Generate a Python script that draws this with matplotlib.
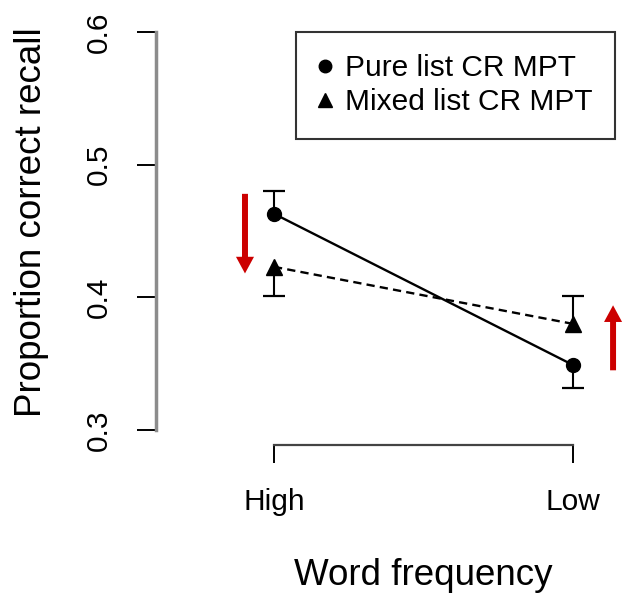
import numpy as np
import matplotlib
matplotlib.use("Agg")
import matplotlib.pyplot as plt
from matplotlib.lines import Line2D
from matplotlib.patches import FancyArrowPatch

plt.rcParams["font.family"] = ["Liberation Sans", "DejaVu Sans"]

# ── data ────────────────────────────────────────────────
freq_labels = ["High", "Low"]
x_pos = np.array([1, 2])
pure_mean = np.array([0.463, 0.349])
pure_err_lo = np.array([0.0, 0.017])
pure_err_hi = np.array([0.017, 0.0])
mixed_mean = np.array([0.423, 0.380])
mixed_err_lo = np.array([0.022, 0.0])
mixed_err_hi = np.array([0.0, 0.021])
y_ticks = [0.3, 0.4, 0.5, 0.6]

# red arrows: (x, y_tail, y_tip)
arrow_left = (0.903, 0.478, 0.418)
arrow_right = (2.134, 0.345, 0.394)

W, H = 626, 600
XLIM = (0.6054, 2.1405)
fig = plt.figure(figsize=(W / 100, H / 100), dpi=100)
ax = fig.add_axes([156 / W, (H - 430) / H, (615 - 156) / W, (430 - 32) / H])
ax.set_xlim(*XLIM)
ax.set_ylim(0.3, 0.6)


def one_sided_bars(x, y, lo, hi):
    # R-style arrows(): only draw the side that has a length
    for xi, yi, l, h in zip(x, y, lo, hi):
        for end in ([yi - l] if l > 0 else []) + ([yi + h] if h > 0 else []):
            ax.plot([xi, xi], [yi, end], color="black", lw=1.5,
                    solid_capstyle="butt", zorder=2, clip_on=False)
            ax.plot([xi], [end], marker="_", ms=16, mew=1.6,
                    color="black", zorder=2, clip_on=False)


# ── series ──────────────────────────────────────────────
one_sided_bars(x_pos, pure_mean, pure_err_lo, pure_err_hi)
one_sided_bars(x_pos, mixed_mean, mixed_err_lo, mixed_err_hi)
ax.plot(x_pos, pure_mean, color="black", lw=1.7, marker="o", ms=10,
        clip_on=False, zorder=3)
ax.plot(x_pos, mixed_mean, color="black", lw=1.7, ls=(0, (3.5, 2.2)),
        marker="^", ms=12, clip_on=False, zorder=3)

# ── arrows ──────────────────────────────────────────────
for ax_x, y0, y1 in [arrow_left, arrow_right]:
    arr = FancyArrowPatch((ax_x, y0), (ax_x, y1),
                          arrowstyle="simple,head_width=13,head_length=12,tail_width=4.3",
                          mutation_scale=1, color="#CC0000", lw=0,
                          shrinkA=0, shrinkB=0, clip_on=False, zorder=4)
    ax.add_patch(arr)

# ── axes styling (R base look) ──────────────────────────
for s in ["top", "right"]:
    ax.spines[s].set_visible(False)
ax.spines["left"].set_bounds(0.3, 0.6)
ax.spines["left"].set_color("#8c8c8c")
ax.spines["left"].set_linewidth(2.5)
ax.spines["bottom"].set_bounds(1, 2)
ax.spines["bottom"].set_position(("outward", 10.8))
ax.spines["bottom"].set_color("#444444")
ax.spines["bottom"].set_linewidth(1.6)

ax.set_xticks(x_pos)
ax.set_xticklabels(freq_labels)
ax.set_yticks(y_ticks)
ax.set_yticklabels([f"{v:.1f}" for v in y_ticks], rotation=90, va="center")
ax.tick_params(axis="y", length=13.7, width=1.4, pad=17, labelsize=21.5)
ax.tick_params(axis="x", length=13, width=1.4, pad=18, labelsize=21.5)

ax.set_xlabel("Word frequency", fontsize=26.5, labelpad=30)
ax.set_ylabel("Proportion correct recall", fontsize=26.5, labelpad=26)
ax.xaxis.label.set_x((1.5 - XLIM[0]) / (XLIM[1] - XLIM[0]))
ax.yaxis.label.set_y((430 - 222) / (430 - 32))

# ── legend ──────────────────────────────────────────────
handles = [Line2D([], [], color="black", marker="o", ls="none", ms=9),
           Line2D([], [], color="black", marker="^", ls="none", ms=10)]
leg = fig.legend(handles, ["Pure list CR MPT", "Mixed list CR MPT"],
                 loc="upper right", bbox_to_anchor=(615 / W, 1 - 32 / H),
                 fontsize=21.5, frameon=True, fancybox=False, framealpha=1,
                 borderpad=0.75, handlelength=0.45, handletextpad=0.45,
                 labelspacing=0.2, borderaxespad=0)
leg.get_frame().set_edgecolor("#333333")
leg.get_frame().set_linewidth(1.5)

fig.savefig("out.png", dpi=100)
